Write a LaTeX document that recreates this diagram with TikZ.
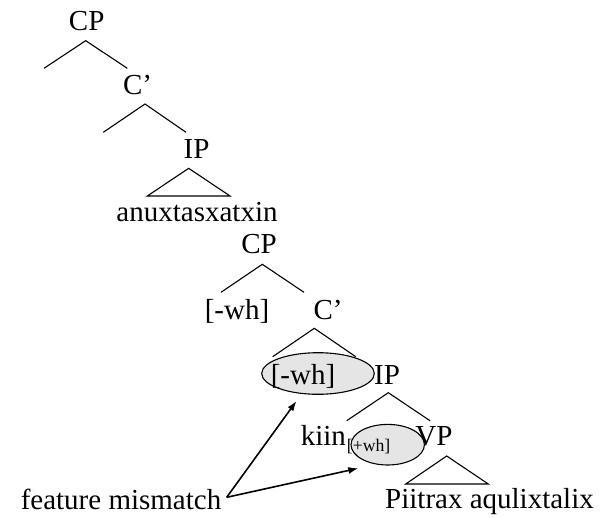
\documentclass[tikz,border=0pt]{standalone}
\usepackage{fontspec}
\setmainfont{Liberation Serif}
\usetikzlibrary{arrows.meta,shapes.geometric}
\begin{document}
\begin{tikzpicture}[x=1pt,y=-1pt,
  lbl/.style={anchor=base,inner sep=0pt,font=\fontsize{29}{34}\selectfont},
  lblw/.style={anchor=base west,inner sep=0pt,font=\fontsize{29}{34}\selectfont},
  subsc/.style={anchor=base west,inner sep=0pt,font=\fontsize{17.7}{20}\selectfont},
  br/.style={line width=1.1pt},
  feat/.style={draw,ellipse,line width=1.1pt,fill=black!10,inner sep=0pt},
  arr/.style={line width=1.6pt,-{Latex[length=10pt,width=7pt]}}]
\useasboundingbox (0,0) rectangle (601,518);
% ellipses (behind text)
\node[feat,minimum width=112.6pt,minimum height=41.6pt] (e1) at (318,373.5) {};
\node[feat,minimum width=73.4pt,minimum height=40.6pt] (e2) at (387.7,444.7) {};
% labels
\node[lbl] (cp1) at (86.7,30.7) {CP};
\node[lbl] (cb1) at (137.5,94.3) {C’};
\node[lbl] (ip1) at (196.5,158.3) {IP};
\node[lbl] (w1) at (197,221.7) {anuxtasxatxin};
\node[lbl] (cp2) at (259,254) {CP};
\node[lbl] (wh1) at (237,319.3) {[-wh]};
\node[lbl] (cb2) at (328,319.3) {C’};
\node[lbl] (wh2) at (303,384) {[-wh]};
\node[lbl] (ip2) at (387,384) {IP};
\node[lbl] (kiin) at (323.4,445.7) {kiin};
\node[subsc] (pwh) at (346.7,451.7) {[+wh]};
\node[lbl] (vp) at (434,445.7) {VP};
\node[lblw] (w2) at (385,508.3) {Piitrax aqulixtalix};
\node[lbl] (fm) at (121,509.3) {feature mismatch};
% branch points
\coordinate (a1) at (85.7,40.7);  \coordinate (l1) at (44,68.3);    \coordinate (r1) at (127.3,68.3);
\coordinate (a2) at (145,104);    \coordinate (l2) at (103.3,132.3); \coordinate (r2) at (186,132.3);
\coordinate (a3) at (188.7,168.3);\coordinate (l3) at (147.3,196);  \coordinate (r3) at (230,196);
\coordinate (a4) at (262.3,264.3);\coordinate (l4) at (221,292.3);  \coordinate (r4) at (304,292.3);
\coordinate (a5) at (314.3,328.3);\coordinate (l5) at (272.7,356.7);\coordinate (r5) at (355.7,356.7);
\coordinate (a6) at (388.3,392.7);\coordinate (l6) at (346.7,420.7);\coordinate (r6) at (430,420.7);
\coordinate (a7) at (446.7,456);  \coordinate (l7) at (405.7,484);  \coordinate (r7) at (488.3,484);
\draw[br] (l1) -- (a1) -- (r1);
\draw[br] (l2) -- (a2) -- (r2);
\draw[br] (l3) -- (a3) -- (r3) -- cycle;
\draw[br] (l4) -- (a4) -- (r4);
\draw[br] (l5) -- (a5) -- (r5);
\draw[br] (l6) -- (a6) -- (r6);
\draw[br] (l7) -- (a7) -- (r7) -- cycle;
% arrows
\coordinate (fmend) at (226.7,497.3);
\coordinate (t1) at (296.5,401);
\coordinate (t2) at (358.3,468.3);
\draw[arr] (fmend) -- (t1);
\draw[arr] (fmend) -- (t2);
\end{tikzpicture}
\end{document}
